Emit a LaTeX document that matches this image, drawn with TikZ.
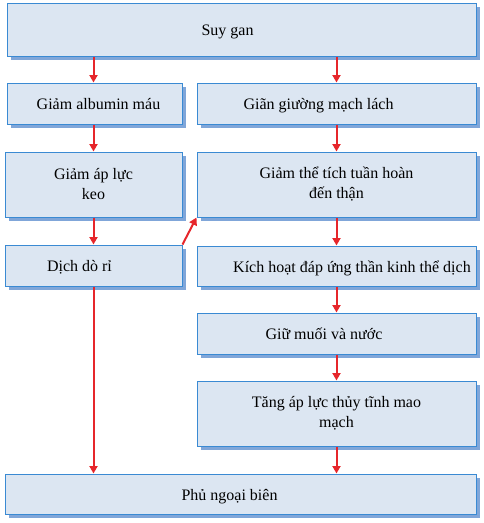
\documentclass[tikz,border=0pt]{standalone}
\usepackage{fontspec}
\setmainfont{Liberation Serif}
\usetikzlibrary{arrows.meta,shadows}
\definecolor{boxfill}{HTML}{DCE6F2}
\definecolor{boxdraw}{HTML}{3A8AD3}
\definecolor{boxshadow}{HTML}{80A6D9}
\definecolor{arrred}{HTML}{E6262B}
\begin{document}
\begin{tikzpicture}[x=1pt,y=-1pt,
  bx/.style={draw=boxdraw,line width=1pt,fill=boxfill,inner sep=0pt,align=center,
    font=\fontsize{16}{20}\selectfont,
    drop shadow={shadow xshift=4pt,shadow yshift=-4pt,fill=boxshadow,opacity=1}},
  one/.style={text height=14pt,text depth=2pt},
  ar/.style={draw=arrred,line width=2pt,-{Triangle[length=7.5pt,width=8pt]}}]
\useasboundingbox (0,0) rectangle (484,523);
\node[bx,one,minimum width=469pt,minimum height=53pt] (sg) at (241.5,29.5) {Suy gan\hspace*{28pt}};
\node[bx,one,minimum width=175pt,minimum height=41pt] (ga) at (94.5,103.5) {Giảm albumin máu\hspace*{-8pt}};
\node[bx,one,minimum width=279pt,minimum height=41pt] (gg) at (336.5,103.5) {Giãn giường mạch lách\hspace*{36pt}};
\node[bx,minimum width=177pt,minimum height=65pt] (gk) at (93.5,184.5) {Giảm áp lực\\keo};
\node[bx,minimum width=279pt,minimum height=65pt] (gt) at (336.5,184.5) {Giảm thể tích tuần hoàn\\đến thận};
\node[bx,one,minimum width=177pt,minimum height=41pt] (dd) at (93.5,265.5) {Dịch dò rỉ\hspace*{28pt}};
\node[bx,one,minimum width=279pt,minimum height=40pt] (kh) at (336.5,266) {\hspace*{31pt}Kích hoạt đáp ứng thần kinh thể dịch};
\node[bx,one,minimum width=279pt,minimum height=41pt] (gm) at (336.5,333.5) {Giữ muối và nước\hspace*{25pt}};
\node[bx,minimum width=279pt,minimum height=65pt] (ta) at (336.5,413.5) {Tăng áp lực thủy tĩnh mao\\mạch};
\node[bx,one,minimum width=471pt,minimum height=40pt] (ph) at (240.5,494) {Phủ ngoại biên\hspace*{22pt}};
\draw[ar] (sg.south -| gk) -- (ga.north -| gk);
\draw[ar] (sg.south -| gg) -- (gg.north);
\draw[ar] (ga.south -| gk) -- (gk.north);
\draw[ar] (gg.south) -- (gt.north);
\draw[ar] (gk.south) -- (dd.north);
\draw[ar] (dd.north east) -- (gt.south west);
\draw[ar] (gt.south) -- (kh.north);
\draw[ar] (kh.south) -- (gm.north);
\draw[ar] (gm.south) -- (ta.north);
\draw[ar] (ta.south) -- (ph.north -| ta);
\draw[ar] (dd.south) -- (ph.north -| dd);
\end{tikzpicture}
\end{document}
